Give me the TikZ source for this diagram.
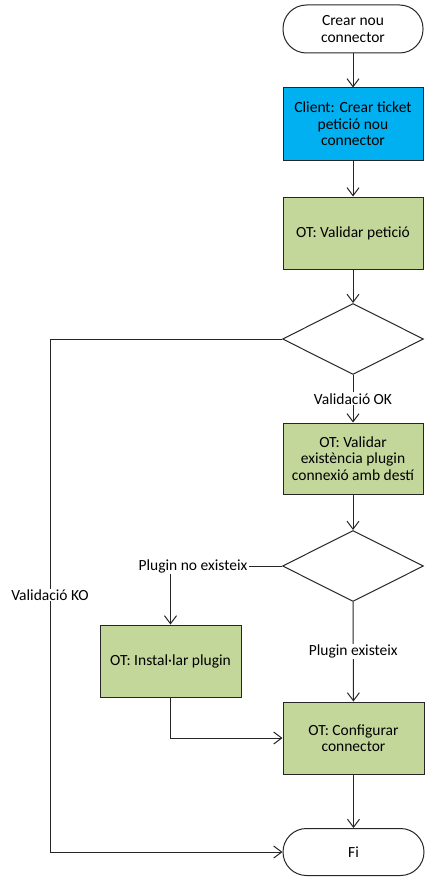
\documentclass[tikz,border=0pt]{standalone}
\usepackage{fontspec}
\setmainfont{Carlito}
\usetikzlibrary{shapes.geometric,arrows.meta}
\definecolor{cblue}{HTML}{00B0F0}
\definecolor{cgreen}{HTML}{C4D79B}
\definecolor{cline}{HTML}{262626}
\begin{document}
\begin{tikzpicture}[x=1pt,y=-1pt,
  font=\fontsize{15.5}{16.5}\selectfont,
  box/.style={draw=cline, line width=1pt, minimum width=140pt, minimum height=72pt, inner sep=0pt, align=center},
  greenbox/.style={box, fill=cgreen},
  bluebox/.style={box, fill=cblue},
  term/.style={draw=cline, line width=1pt, fill=white, minimum width=140pt, minimum height=48pt, inner sep=0pt, rounded corners=23.5pt, align=center},
  decision/.style={draw=cline, line width=1pt, fill=white, diamond, minimum width=141pt, minimum height=71pt, inner sep=0pt},
  lbl/.style={fill=white, inner sep=1pt},
  conn/.style={draw=cline, line width=1pt},
  arr/.style={conn, -{Straight Barb[length=8pt,width=12pt,line width=1pt]}}
]
\useasboundingbox (0,0) rectangle (430,880);

\node[term] (start) at (353,29) {Crear nou\\connector};
\node[bluebox] (client) at (353,124) {Client: Crear ticket\\petició nou\\connector};
\node[greenbox] (valid) at (353,233) {OT: Validar petició};
\node[decision] (d1) at (353,339) {};
\node[greenbox, minimum height=71pt] (exist) at (353,458.5) {OT: Validar\\existència plugin\\connexió amb destí};
\node[decision] (d2) at (353,566) {};
\node[greenbox, minimum width=141pt] (inst) at (170.5,661) {OT: Instal·lar plugin};
\node[greenbox, minimum width=141pt] (conf) at (353.5,738) {OT: Configurar\\connector};
\node[term, minimum width=141pt, minimum height=47pt] (fi) at (353.5,852) {Fi};
\coordinate (koTop) at (50,339);

\draw[arr] (start) -- (client);
\draw[arr] (client) -- (valid);
\draw[arr] (valid) -- (d1);
\draw[arr] (d1) -- node[lbl] (ok) {Validació OK} (exist);
\draw[arr] (exist) -- (d2);
\draw[arr] (d1.west) -- (koTop) |- (fi.west);
\node[lbl] (ko) at (50,595) {Validació KO};
\node[lbl] (nolbl) at (193,566) {Plugin no existeix};
\draw[conn] (d2.west) -- (nolbl.east);
\draw[arr] (nolbl.south -| inst.north) -- (inst.north);
\draw[arr] (d2) -- node[lbl] (yes) {Plugin existeix} (conf);
\draw[arr] (inst.south) |- (conf.west);
\draw[arr] (conf) -- (fi);
\end{tikzpicture}
\end{document}
